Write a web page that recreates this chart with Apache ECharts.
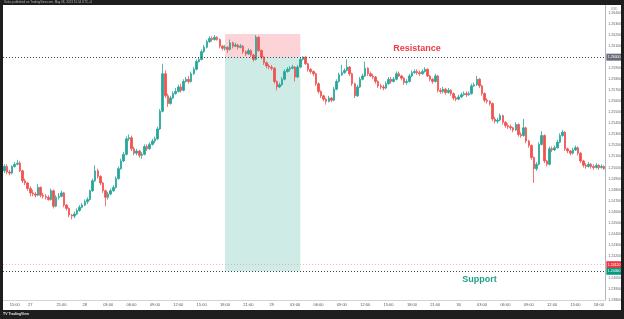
<!DOCTYPE html>
<html><head><meta charset="utf-8">
<script src="https://cdn.jsdelivr.net/npm/echarts@6/dist/echarts.min.js"></script>
<style>html,body{margin:0;padding:0;background:#fff}#c{width:624px;height:319px}</style>
</head><body><div id="c"></div>
<script>
const opens = [
1.2497,1.2501,1.2496,1.2495,1.2501,1.2503,1.2504,1.2497,1.2488,1.2486,
1.2481,1.2477,1.2476,1.2475,1.2482,1.2475,1.2474,1.2473,1.2471,1.2479,
1.2465,1.2473,1.2474,1.2477,1.2466,1.2463,1.2457,1.2456,1.2458,1.2461,
1.2464,1.2466,1.2469,1.2471,1.2479,1.2488,1.2497,1.2492,1.2486,1.2479,
1.2473,1.2476,1.2479,1.2482,1.2490,1.2499,1.2506,1.2512,1.2526,1.2527,
1.2517,1.2513,1.2515,1.2511,1.2512,1.2519,1.2517,1.2521,1.2524,1.2526,
1.2535,1.2551,1.2585,1.2565,1.2558,1.2563,1.2567,1.2569,1.2573,1.2570,
1.2578,1.2580,1.2578,1.2585,1.2589,1.2596,1.2598,1.2605,1.2609,1.2614,
1.2617,1.2616,1.2618,1.2616,1.2610,1.2608,1.2609,1.2607,1.2613,1.2610,
1.2611,1.2609,1.2610,1.2605,1.2603,1.2606,1.2602,1.2598,1.2618,1.2606,
1.2600,1.2595,1.2592,1.2591,1.2590,1.2578,1.2573,1.2575,1.2580,1.2587,
1.2589,1.2590,1.2591,1.2582,1.2591,1.2598,1.2600,1.2594,1.2589,1.2587,
1.2585,1.2576,1.2569,1.2565,1.2562,1.2560,1.2563,1.2561,1.2571,1.2578,
1.2584,1.2586,1.2588,1.2591,1.2585,1.2576,1.2565,1.2573,1.2580,1.2583,
1.2590,1.2585,1.2583,1.2582,1.2578,1.2574,1.2573,1.2572,1.2576,1.2580,
1.2578,1.2580,1.2585,1.2583,1.2581,1.2577,1.2578,1.2583,1.2586,1.2587,
1.2586,1.2585,1.2587,1.2589,1.2583,1.2580,1.2578,1.2583,1.2570,1.2569,
1.2571,1.2568,1.2570,1.2567,1.2563,1.2562,1.2564,1.2566,1.2567,1.2566,
1.2567,1.2574,1.2575,1.2580,1.2574,1.2567,1.2561,1.2560,1.2558,1.2544,
1.2542,1.2543,1.2547,1.2541,1.2538,1.2537,1.2536,1.2534,1.2539,1.2530,
1.2529,1.2536,1.2524,1.2520,1.2509,1.2499,1.2503,1.2521,1.2529,1.2506,
1.2503,1.2517,1.2516,1.2518,1.2523,1.2529,1.2532,1.2517,1.2515,1.2513,
1.2516,1.2518,1.2513,1.2506,1.2502,1.2501,1.2503,1.2501,1.2500,1.2502,
1.2500,1.2501];
const closes = [
1.2501,1.2496,1.2495,1.2501,1.2503,1.2504,1.2497,1.2488,1.2486,1.2481,
1.2477,1.2476,1.2475,1.2482,1.2475,1.2474,1.2473,1.2471,1.2479,1.2465,
1.2473,1.2474,1.2477,1.2466,1.2463,1.2457,1.2456,1.2458,1.2461,1.2464,
1.2466,1.2469,1.2471,1.2479,1.2488,1.2497,1.2492,1.2486,1.2479,1.2473,
1.2476,1.2479,1.2482,1.2490,1.2499,1.2506,1.2512,1.2526,1.2527,1.2517,
1.2513,1.2515,1.2511,1.2512,1.2519,1.2517,1.2521,1.2524,1.2526,1.2535,
1.2551,1.2585,1.2565,1.2558,1.2563,1.2567,1.2569,1.2573,1.2570,1.2578,
1.2580,1.2578,1.2585,1.2589,1.2596,1.2598,1.2605,1.2609,1.2614,1.2617,
1.2616,1.2618,1.2616,1.2610,1.2608,1.2609,1.2607,1.2613,1.2610,1.2611,
1.2609,1.2610,1.2605,1.2603,1.2606,1.2602,1.2598,1.2618,1.2606,1.2600,
1.2595,1.2592,1.2591,1.2590,1.2578,1.2573,1.2575,1.2580,1.2587,1.2589,
1.2590,1.2591,1.2582,1.2591,1.2598,1.2600,1.2594,1.2589,1.2587,1.2585,
1.2576,1.2569,1.2565,1.2562,1.2560,1.2563,1.2561,1.2571,1.2578,1.2584,
1.2586,1.2588,1.2591,1.2585,1.2576,1.2565,1.2573,1.2580,1.2583,1.2590,
1.2585,1.2583,1.2582,1.2578,1.2574,1.2573,1.2572,1.2576,1.2580,1.2578,
1.2580,1.2585,1.2583,1.2581,1.2577,1.2578,1.2583,1.2586,1.2587,1.2586,
1.2585,1.2587,1.2589,1.2583,1.2580,1.2578,1.2583,1.2570,1.2569,1.2571,
1.2568,1.2570,1.2567,1.2563,1.2562,1.2564,1.2566,1.2567,1.2566,1.2567,
1.2574,1.2575,1.2580,1.2574,1.2567,1.2561,1.2560,1.2558,1.2544,1.2542,
1.2543,1.2547,1.2541,1.2538,1.2537,1.2536,1.2534,1.2539,1.2530,1.2529,
1.2536,1.2524,1.2520,1.2509,1.2499,1.2503,1.2521,1.2529,1.2506,1.2503,
1.2517,1.2516,1.2518,1.2523,1.2529,1.2532,1.2517,1.2515,1.2513,1.2516,
1.2518,1.2513,1.2506,1.2502,1.2501,1.2503,1.2501,1.2500,1.2502,1.2500,
1.2501,1.2499];
const highs = [
1.2503,1.2503,1.2498,1.2502,1.2505,1.2507,1.2506,1.2498,1.2490,1.2487,
1.2483,1.2480,1.2478,1.2485,1.2483,1.2477,1.2476,1.2475,1.2481,1.2480,
1.2475,1.2477,1.2479,1.2478,1.2467,1.2464,1.2458,1.2460,1.2463,1.2466,
1.2468,1.2471,1.2473,1.2480,1.2490,1.2502,1.2499,1.2493,1.2487,1.2480,
1.2478,1.2481,1.2484,1.2492,1.2501,1.2508,1.2514,1.2528,1.2530,1.2529,
1.2519,1.2517,1.2516,1.2514,1.2521,1.2521,1.2523,1.2526,1.2528,1.2537,
1.2553,1.2594,1.2588,1.2567,1.2565,1.2569,1.2572,1.2575,1.2576,1.2580,
1.2582,1.2583,1.2587,1.2591,1.2598,1.2600,1.2607,1.2611,1.2616,1.2619,
1.2619,1.2620,1.2619,1.2617,1.2611,1.2611,1.2610,1.2616,1.2614,1.2613,
1.2612,1.2612,1.2611,1.2606,1.2608,1.2607,1.2603,1.2620,1.2619,1.2607,
1.2601,1.2596,1.2594,1.2593,1.2591,1.2579,1.2577,1.2582,1.2589,1.2591,
1.2592,1.2593,1.2592,1.2593,1.2600,1.2601,1.2601,1.2595,1.2590,1.2588,
1.2586,1.2577,1.2570,1.2566,1.2563,1.2565,1.2564,1.2573,1.2580,1.2586,
1.2593,1.2590,1.2598,1.2592,1.2586,1.2577,1.2575,1.2582,1.2585,1.2596,
1.2591,1.2587,1.2585,1.2583,1.2579,1.2576,1.2575,1.2578,1.2582,1.2582,
1.2582,1.2587,1.2587,1.2584,1.2582,1.2580,1.2585,1.2588,1.2589,1.2589,
1.2588,1.2589,1.2591,1.2590,1.2584,1.2581,1.2585,1.2584,1.2572,1.2573,
1.2572,1.2572,1.2571,1.2568,1.2565,1.2566,1.2568,1.2569,1.2569,1.2569,
1.2576,1.2577,1.2583,1.2581,1.2575,1.2568,1.2563,1.2561,1.2559,1.2546,
1.2545,1.2549,1.2548,1.2542,1.2540,1.2539,1.2537,1.2541,1.2540,1.2532,
1.2544,1.2537,1.2525,1.2521,1.2510,1.2505,1.2523,1.2533,1.2530,1.2507,
1.2519,1.2519,1.2520,1.2525,1.2531,1.2534,1.2533,1.2518,1.2516,1.2518,
1.2520,1.2519,1.2514,1.2507,1.2504,1.2505,1.2504,1.2503,1.2504,1.2503,
1.2503,1.2502];
const lows = [
1.2495,1.2494,1.2493,1.2494,1.2500,1.2502,1.2496,1.2486,1.2484,1.2479,
1.2474,1.2474,1.2473,1.2474,1.2473,1.2472,1.2471,1.2470,1.2470,1.2463,
1.2464,1.2471,1.2473,1.2464,1.2461,1.2455,1.2453,1.2454,1.2457,1.2460,
1.2463,1.2465,1.2467,1.2470,1.2478,1.2487,1.2490,1.2484,1.2477,1.2465,
1.2471,1.2475,1.2478,1.2481,1.2489,1.2498,1.2505,1.2511,1.2524,1.2515,
1.2511,1.2511,1.2509,1.2508,1.2511,1.2515,1.2516,1.2520,1.2522,1.2525,
1.2534,1.2550,1.2563,1.2555,1.2557,1.2562,1.2566,1.2568,1.2568,1.2569,
1.2577,1.2576,1.2577,1.2584,1.2588,1.2595,1.2597,1.2604,1.2608,1.2613,
1.2614,1.2615,1.2615,1.2608,1.2606,1.2606,1.2604,1.2606,1.2608,1.2609,
1.2607,1.2608,1.2603,1.2601,1.2602,1.2600,1.2596,1.2597,1.2605,1.2598,
1.2593,1.2590,1.2589,1.2588,1.2576,1.2570,1.2572,1.2574,1.2579,1.2586,
1.2587,1.2589,1.2578,1.2581,1.2590,1.2597,1.2593,1.2587,1.2585,1.2583,
1.2574,1.2567,1.2563,1.2560,1.2557,1.2559,1.2559,1.2560,1.2570,1.2577,
1.2583,1.2585,1.2587,1.2583,1.2574,1.2563,1.2564,1.2572,1.2579,1.2582,
1.2583,1.2582,1.2580,1.2576,1.2572,1.2571,1.2570,1.2571,1.2575,1.2576,
1.2577,1.2579,1.2582,1.2579,1.2575,1.2575,1.2577,1.2582,1.2585,1.2584,
1.2583,1.2584,1.2586,1.2582,1.2578,1.2576,1.2577,1.2568,1.2567,1.2567,
1.2566,1.2567,1.2565,1.2561,1.2560,1.2561,1.2563,1.2565,1.2564,1.2565,
1.2566,1.2573,1.2574,1.2572,1.2565,1.2559,1.2558,1.2556,1.2542,1.2540,
1.2540,1.2542,1.2539,1.2536,1.2535,1.2534,1.2532,1.2533,1.2528,1.2527,
1.2528,1.2522,1.2518,1.2507,1.2486,1.2497,1.2502,1.2520,1.2504,1.2501,
1.2502,1.2514,1.2515,1.2517,1.2522,1.2528,1.2515,1.2513,1.2511,1.2512,
1.2515,1.2511,1.2504,1.2500,1.2499,1.2500,1.2499,1.2498,1.2499,1.2498,
1.2499,1.2498];

// time-axis tick labels (candle index -> text)
const tickIndex = [4,10,22,31,40,49,58,67,76,85,94,103,112,121,130,139,148,157,166,175,184,193,202,211,220,229];
const tickText  = ['15:00','27','21:00','28','03:00','06:00','09:00','12:00','15:00','18:00','21:00','29','03:00','06:00','09:00','12:00','15:00','18:00','21:00','30','03:00','06:00','09:00','12:00','15:00','18:00'];

// key levels
const resistance = 1.2600;
const support = 1.2406;
const stopLevel = 1.2621;
const alertLevel = 1.2412;
const lastPrice = 1.2499;
const boxStart = 85, boxEnd = 114;
const resistLabelPos = [159, 1.26077];
const supportLabelPos = [183, 1.23989];

const categories = opens.map((_, i) => i);
const candles = opens.map((o, i) => [o, closes[i], lows[i], highs[i]]);

const chart = echarts.init(document.getElementById('c'), null, {renderer: 'canvas'});
const FF = 'Liberation Sans, Arial, sans-serif';
function tag(val, bg) {
  return {show: true, position: 'end', distance: 1, formatter: val.toFixed(5),
    backgroundColor: bg, color: '#fff', fontSize: 3.5, fontFamily: FF, padding: [1.5, 1.5], lineHeight: 4};
}
chart.setOption({
  animation: false,
  backgroundColor: '#ffffff',
  grid: {left: 3, right: 17, top: 0, bottom: 19},
  xAxis: {
    type: 'category', data: categories, boundaryGap: true,
    axisLine: {show: true, lineStyle: {color: '#d1d4dc', width: 1}},
    axisTick: {show: false},
    splitLine: {show: false},
    axisLabel: {
      show: true, fontSize: 4, color: '#555', fontFamily: FF, margin: 3,
      interval: (idx) => tickIndex.indexOf(idx) >= 0,
      formatter: (v, idx) => { const k = tickIndex.indexOf(Number(v)); return k >= 0 ? tickText[k] : ''; }
    }
  },
  yAxis: {
    type: 'value', position: 'right', min: 1.2380, max: 1.2650, interval: 0.0010,
    axisLine: {show: true, lineStyle: {color: '#b2b5be', width: 1}},
    axisTick: {show: false},
    splitLine: {show: false},
    axisLabel: {show: true, fontSize: 3.5, color: '#666', fontFamily: FF, margin: 3, formatter: (v) => v.toFixed(5)}
  },
  series: [{
    type: 'candlestick',
    data: candles,
    barWidth: 2,
    itemStyle: {color: '#26a69a', color0: '#ef5350', borderColor: '#26a69a', borderColor0: '#ef5350', borderWidth: 0.8},
    markArea: {
      silent: true,
      data: [
        [{coord: [boxStart, stopLevel], itemStyle: {color: 'rgba(242,54,69,0.22)'}}, {coord: [boxEnd, resistance]}],
        [{coord: [boxStart, resistance], itemStyle: {color: 'rgba(8,153,129,0.2)'}}, {coord: [boxEnd, support]}]
      ]
    }
  }, {
    type: 'line',
    data: closes,
    symbol: 'none',
    silent: true,
    lineStyle: {opacity: 0},
    z: 5,
    markLine: {
      silent: true, symbol: ['none', 'none'], precision: 5,
      data: [
        {yAxis: resistance, lineStyle: {color: '#434651', type: [1, 2], width: 1}, label: tag(resistance, '#6a6d78')},
        {yAxis: alertLevel, lineStyle: {color: '#f7a0a8', type: [1, 2], width: 0.8}, label: tag(alertLevel, '#f23645')},
        {yAxis: alertLevel, lineStyle: {opacity: 0}, label: {show: true, position: 'insideEndTop', distance: [0, -3.5], formatter: 'Alert 1.24120', backgroundColor: '#f23645', color: '#fff', fontSize: 3, fontFamily: FF, padding: [1, 1.5]}},
        {yAxis: support, lineStyle: {color: '#434651', type: [1, 2], width: 1}, label: tag(support, '#089981')},
        {yAxis: stopLevel, lineStyle: {opacity: 0}, label: tag(stopLevel, '#f23645')},
        {yAxis: lastPrice, lineStyle: {opacity: 0}, label: tag(lastPrice, '#4fb8a8')}
      ]
    },
    markPoint: {
      silent: true, symbol: 'rect', symbolSize: 1, itemStyle: {color: 'rgba(0,0,0,0)'},
      data: [
        {coord: resistLabelPos, label: {show: true, position: 'inside', formatter: 'Resistance', color: '#ee3a49', fontSize: 9, fontWeight: 'bold', fontFamily: FF}},
        {coord: supportLabelPos, label: {show: true, position: 'inside', formatter: 'Support', color: '#1f9e8a', fontSize: 9, fontWeight: 'bold', fontFamily: FF}}
      ]
    }
  }],
  graphic: [
    {type: 'rect', shape: {x: 0, y: 0, width: 624, height: 5}, style: {fill: '#1e1e1e'}, z: 100},
    {type: 'rect', shape: {x: 0, y: 0, width: 3, height: 319}, style: {fill: '#1e1e1e'}, z: 100},
    {type: 'rect', shape: {x: 621, y: 0, width: 3, height: 319}, style: {fill: '#1e1e1e'}, z: 100},
    {type: 'rect', shape: {x: 0, y: 310, width: 624, height: 9}, style: {fill: '#1e1e1e'}, z: 100},
    {type: 'text', x: 4, y: 1, style: {text: 'Solus published on TradingView.com, May 08, 2023 15:54 UTC+4', fill: '#b5b5b5', fontSize: 3, fontFamily: FF}, z: 101},
    {type: 'text', x: 3, y: 312.5, style: {text: 'TV TradingView', fill: '#e0e0e0', fontSize: 3.5, fontWeight: 'bold', fontFamily: FF}, z: 101},
    {type: 'text', x: 611, y: 8, style: {text: 'USD', fill: '#888', fontSize: 3, fontFamily: FF}, z: 101}
  ]
});
</script></body></html>
